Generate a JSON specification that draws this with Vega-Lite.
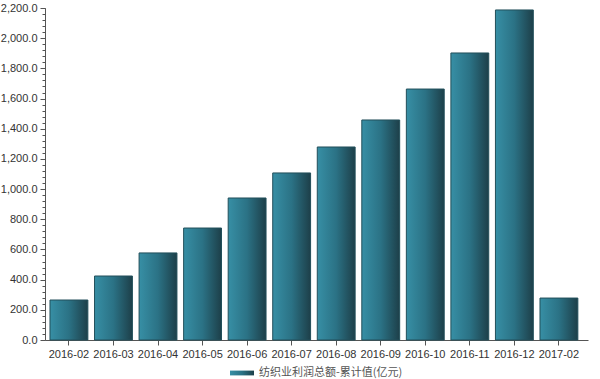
{
  "$schema": "https://vega.github.io/schema/vega-lite/v6.json",
  "width": 543,
  "height": 332,
  "autosize": {"type": "none"},
  "padding": {"left": 45, "top": 8, "right": 12, "bottom": 39},
  "background": "#ffffff",
  "config": {
    "view": {"stroke": null},
    "font": "Liberation Sans",
    "axis": {"domainColor": "#555555", "tickColor": "#555555", "labelColor": "#333333", "labelFontSize": 11, "grid": false, "title": null}
  },
  "data": {
    "values": [
      {"month": "2016-02", "value": 265, "s": "纺织业利润总额-累计值(亿元)"},
      {"month": "2016-03", "value": 424, "s": "纺织业利润总额-累计值(亿元)"},
      {"month": "2016-04", "value": 577, "s": "纺织业利润总额-累计值(亿元)"},
      {"month": "2016-05", "value": 742, "s": "纺织业利润总额-累计值(亿元)"},
      {"month": "2016-06", "value": 941, "s": "纺织业利润总额-累计值(亿元)"},
      {"month": "2016-07", "value": 1107, "s": "纺织业利润总额-累计值(亿元)"},
      {"month": "2016-08", "value": 1279, "s": "纺织业利润总额-累计值(亿元)"},
      {"month": "2016-09", "value": 1458, "s": "纺织业利润总额-累计值(亿元)"},
      {"month": "2016-10", "value": 1663, "s": "纺织业利润总额-累计值(亿元)"},
      {"month": "2016-11", "value": 1902, "s": "纺织业利润总额-累计值(亿元)"},
      {"month": "2016-12", "value": 2187, "s": "纺织业利润总额-累计值(亿元)"},
      {"month": "2017-02", "value": 278, "s": "纺织业利润总额-累计值(亿元)"}
    ]
  },
  "resolve": {"axis": {"y": "independent"}},
  "layer": [
    {
      "mark": {
        "type": "bar",
        "strokeWidth": 1,
        "color": {
          "gradient": "linear",
          "x1": 0, "y1": 0, "x2": 1, "y2": 0,
          "stops": [
            {"offset": 0, "color": "#378fa5"},
            {"offset": 0.5, "color": "#2b7285"},
            {"offset": 1, "color": "#1d3f49"}
          ]
        }
      },
      "encoding": {
        "x": {
          "field": "month", "type": "nominal", "sort": null,
          "scale": {"paddingInner": 0.15, "paddingOuter": 0.17, "align": 0.33},
          "axis": {"labelAngle": 0, "tickSize": 5, "labelPadding": 3, "domainWidth": 1}
        },
        "y": {
          "field": "value", "type": "quantitative",
          "scale": {"domain": [0, 2200], "nice": false},
          "axis": {"values": [0, 200, 400, 600, 800, 1000, 1200, 1400, 1600, 1800, 2000, 2200], "format": ",.1f", "tickSize": 5, "labelPadding": 3}
        },
        "stroke": {
          "field": "s", "type": "nominal",
          "scale": {"range": ["#224f5a"]},
          "legend": {
            "orient": "none", "legendX": 189, "legendY": 357, "title": null,
            "symbolType": "M-1.5,-0.3H1.5V0.3H-1.5Z",
            "symbolSize": 256,
            "symbolFillColor": "#2a7184",
            "symbolStrokeWidth": 0,
            "labelFont": "Noto Sans CJK SC",
            "labelFontSize": 11,
            "labelColor": "#555555",
            "labelOffset": 9
          }
        }
      }
    },
    {
      "mark": {"type": "bar", "opacity": 0},
      "encoding": {
        "x": {"field": "month", "type": "nominal", "sort": null},
        "y": {
          "field": "value", "type": "quantitative",
          "axis": {"values": [0,40,80,120,160,200,240,280,320,360,400,440,480,520,560,600,640,680,720,760,800,840,880,920,960,1000,1040,1080,1120,1160,1200,1240,1280,1320,1360,1400,1440,1480,1520,1560,1600,1640,1680,1720,1760,1800,1840,1880,1920,1960,2000,2040,2080,2120,2160,2200], "labels": false, "domain": false, "tickSize": 3, "orient": "left"}
        }
      }
    }
  ]
}
